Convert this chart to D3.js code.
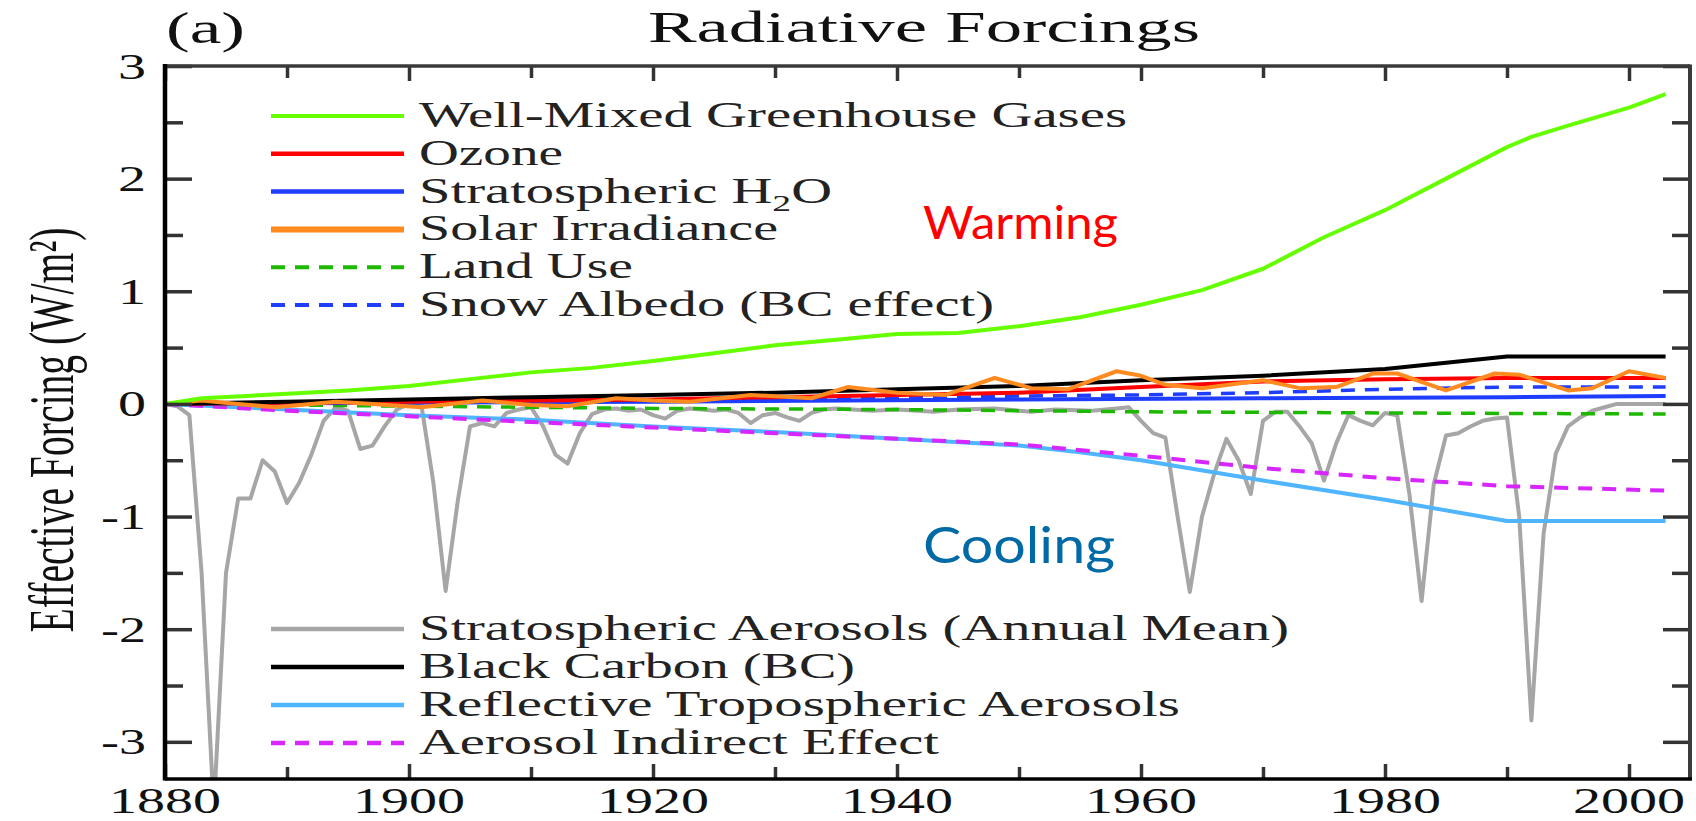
<!DOCTYPE html>
<html><head><meta charset="utf-8">
<script src="https://cdn.jsdelivr.net/npm/d3@7"></script>
<style>html,body{margin:0;padding:0;background:#fff;}svg{display:block}</style>
</head><body>
<svg id="chart" width="1696" height="821"></svg>
<script>
// ---------------- DATA ----------------
const xMajorYears = [1880, 1900, 1920, 1940, 1960, 1980, 2000];
const xMinorYears = [1890, 1910, 1930, 1950, 1970, 1990];
const xTickLabels = ["1880", "1900", "1920", "1940", "1960", "1980", "2000"];
const yMajorValues = [-3, -2, -1, 0, 1, 2, 3];
const yMinorValues = [-2.5, -1.5, -0.5, 0.5, 1.5, 2.5];
const yTickLabels = ["-3", "-2", "-1", "0", "1", "2", "3"];

const ghg = [[1880,0],[1883,0.05],[1890,0.09],[1895,0.12],[1900,0.16],[1905,0.22],[1910,0.28],[1915,0.32],[1920,0.38],[1925,0.45],[1930,0.52],[1935,0.57],[1940,0.62],[1945,0.63],[1950,0.69],[1955,0.77],[1960,0.88],[1965,1.01],[1970,1.2],[1975,1.48],[1980,1.72],[1985,2.0],[1990,2.28],[1992,2.37],[1995,2.47],[2000,2.63],[2003,2.75]];
const ozone = [[1880,0],[1900,0.02],[1920,0.04],[1940,0.08],[1950,0.1],[1960,0.15],[1970,0.2],[1980,0.22],[1990,0.23],[2003,0.23]];
const stratH2O = [[1880,0],[1920,0.02],[1950,0.04],[1970,0.05],[1990,0.06],[2003,0.07]];
const solar = [[1880,0.0],[1883,0.03],[1886,0.0],[1889,-0.03],[1894,0.02],[1897,0.0],[1901,-0.03],[1906,0.03],[1910,-0.01],[1913,-0.02],[1917,0.05],[1920,0.03],[1923,0.02],[1928,0.08],[1933,0.05],[1936,0.15],[1940,0.1],[1944,0.08],[1948,0.23],[1951,0.14],[1954,0.13],[1958,0.29],[1960,0.25],[1962,0.17],[1965,0.14],[1970,0.21],[1973,0.14],[1976,0.15],[1979,0.27],[1981,0.27],[1985,0.12],[1989,0.27],[1991,0.26],[1995,0.12],[1997,0.14],[2000,0.29],[2003,0.23]];
const landUse = [[1880,0],[1900,-0.02],[1920,-0.04],[1940,-0.05],[1960,-0.07],[1980,-0.08],[2003,-0.09]];
const snowAlbedo = [[1880,0],[1900,0.02],[1920,0.03],[1940,0.05],[1950,0.07],[1960,0.08],[1970,0.1],[1980,0.13],[1990,0.15],[2003,0.15]];
const stratAerosols = [[1880,0],[1881,-0.02],[1882,-0.1],[1883,-1.5],[1884,-3.6],[1885,-1.5],[1886,-0.84],[1887,-0.84],[1888,-0.5],[1889,-0.6],[1890,-0.88],[1891,-0.7],[1892,-0.45],[1893,-0.15],[1894,-0.03],[1895,-0.06],[1896,-0.4],[1897,-0.37],[1898,-0.2],[1899,-0.05],[1900,0],[1901,0],[1902,-0.7],[1903,-1.66],[1904,-0.86],[1905,-0.2],[1906,-0.17],[1907,-0.2],[1908,-0.08],[1909,-0.05],[1910,-0.03],[1911,-0.2],[1912,-0.45],[1913,-0.53],[1914,-0.26],[1915,-0.09],[1916,-0.05],[1917,-0.04],[1918,-0.06],[1919,-0.05],[1920,-0.1],[1921,-0.13],[1922,-0.06],[1923,-0.04],[1924,-0.05],[1925,-0.06],[1926,-0.05],[1927,-0.08],[1928,-0.17],[1929,-0.1],[1930,-0.08],[1931,-0.12],[1932,-0.15],[1933,-0.08],[1934,-0.05],[1935,-0.04],[1938,-0.06],[1940,-0.05],[1943,-0.07],[1945,-0.05],[1948,-0.04],[1951,-0.07],[1953,-0.05],[1956,-0.06],[1958,-0.04],[1959,-0.03],[1960,-0.15],[1961,-0.26],[1962,-0.3],[1963,-1.0],[1964,-1.67],[1965,-1.0],[1966,-0.62],[1967,-0.31],[1968,-0.5],[1969,-0.8],[1970,-0.15],[1971,-0.07],[1972,-0.07],[1973,-0.2],[1974,-0.35],[1975,-0.68],[1976,-0.35],[1977,-0.1],[1978,-0.15],[1979,-0.19],[1980,-0.08],[1981,-0.1],[1982,-0.8],[1983,-1.75],[1984,-0.71],[1985,-0.28],[1986,-0.26],[1987,-0.2],[1988,-0.15],[1989,-0.13],[1990,-0.12],[1991,-1.0],[1992,-2.81],[1993,-1.15],[1994,-0.44],[1995,-0.2],[1996,-0.12],[1997,-0.06],[1998,-0.03],[1999,0],[2003,0]];
const blackCarbon = [[1880,0],[1890,0.02],[1900,0.04],[1910,0.06],[1920,0.08],[1930,0.1],[1940,0.13],[1950,0.16],[1960,0.21],[1970,0.25],[1980,0.31],[1990,0.42],[2003,0.42]];
const tropAerosols = [[1880,0],[1890,-0.05],[1900,-0.1],[1910,-0.14],[1920,-0.2],[1930,-0.25],[1940,-0.31],[1950,-0.37],[1955,-0.43],[1960,-0.5],[1970,-0.68],[1980,-0.85],[1990,-1.04],[2003,-1.04]];
const indirect = [[1880,0],[1890,-0.06],[1900,-0.11],[1910,-0.16],[1920,-0.21],[1930,-0.26],[1940,-0.31],[1950,-0.36],[1960,-0.46],[1970,-0.57],[1980,-0.66],[1990,-0.73],[2003,-0.77]];

const upperLegendNames = ["Well-Mixed Greenhouse Gases", "Ozone", "Stratospheric H2O", "Solar Irradiance", "Land Use", "Snow Albedo (BC effect)"];
const lowerLegendNames = ["Stratospheric Aerosols (Annual Mean)", "Black Carbon (BC)", "Reflective Tropospheric Aerosols", "Aerosol Indirect Effect"];

// ---------------- STYLE ----------------
const C = {
  ghg: "#66ff00", ozone: "#ff0000", h2o: "#1f3dff", solar: "#ff8a20", land: "#1db800",
  snow: "#1f3dff", strat: "#a6a6a6", bc: "#000000", trop: "#4fb5ff", ind: "#d726ff"
};
const serif = "'Liberation Serif','Times New Roman',serif";

const M = {left: 165, right: 1690, top: 66, bottom: 779};
const svg = d3.select("#chart");
const x = d3.scaleLinear().domain([1880, 2005]).range([M.left, M.right]);
const y = d3.scaleLinear().domain([-3.33, 3]).range([M.bottom, M.top]);

svg.append("defs").append("clipPath").attr("id", "clip").append("rect")
  .attr("x", M.left).attr("y", M.top).attr("width", M.right - M.left).attr("height", M.bottom - M.top);

// series in drawing order
const series = [
  {data: stratAerosols, color: C.strat, w: 4, dash: null},
  {data: tropAerosols, color: C.trop, w: 4, dash: null},
  {data: indirect, color: C.ind, w: 4, dash: "14,10"},
  {data: landUse, color: C.land, w: 3.5, dash: "14,10"},
  {data: snowAlbedo, color: C.snow, w: 3.5, dash: "14,10"},
  {data: stratH2O, color: C.h2o, w: 4, dash: null},
  {data: ozone, color: C.ozone, w: 4, dash: null},
  {data: blackCarbon, color: C.bc, w: 4, dash: null},
  {data: solar, color: C.solar, w: 4, dash: null},
  {data: ghg, color: C.ghg, w: 4, dash: null}
];
const line = d3.line().x(d => x(d[0])).y(d => y(d[1]));
const plot = svg.append("g").attr("clip-path", "url(#clip)");
series.forEach(s => {
  plot.append("path").attr("d", line(s.data)).attr("fill", "none")
    .attr("stroke", s.color).attr("stroke-width", s.w)
    .attr("stroke-linejoin", "round")
    .attr("stroke-dasharray", s.dash);
});

// ---------------- AXES ----------------
function drawAxis(gen, tr, sw) {
  const g = svg.append("g").attr("transform", tr).call(gen);
  g.select(".domain").remove();
  g.selectAll("text").remove();
  g.selectAll("line").attr("stroke", "#333").attr("stroke-width", sw);
}
drawAxis(d3.axisBottom(x).tickValues(xMajorYears).tickSize(-15), `translate(0,${M.bottom})`, 3.5);
drawAxis(d3.axisBottom(x).tickValues(xMinorYears).tickSize(-12), `translate(0,${M.bottom})`, 3.5);
drawAxis(d3.axisTop(x).tickValues(xMajorYears).tickSize(-15), `translate(0,${M.top})`, 3.5);
drawAxis(d3.axisTop(x).tickValues(xMinorYears).tickSize(-12), `translate(0,${M.top})`, 3.5);
drawAxis(d3.axisLeft(y).tickValues(yMajorValues).tickSize(-27), `translate(${M.left},0)`, 3.5);
drawAxis(d3.axisLeft(y).tickValues(yMinorValues).tickSize(-18), `translate(${M.left},0)`, 3.5);
drawAxis(d3.axisRight(y).tickValues(yMajorValues).tickSize(-27), `translate(${M.right},0)`, 3.5);
drawAxis(d3.axisRight(y).tickValues(yMinorValues).tickSize(-18), `translate(${M.right},0)`, 3.5);

// frame
const frame = svg.append("g");
frame.append("line").attr("x1", M.left).attr("x2", M.right).attr("y1", M.top).attr("y2", M.top).attr("stroke", "#3a3a3a").attr("stroke-width", 3.5);
frame.append("line").attr("x1", M.right).attr("x2", M.right).attr("y1", M.top - 1.5).attr("y2", M.bottom).attr("stroke", "#3a3a3a").attr("stroke-width", 4);
frame.append("line").attr("x1", M.left).attr("x2", M.right + 2).attr("y1", M.bottom).attr("y2", M.bottom).attr("stroke", "#000").attr("stroke-width", 3.5);
frame.append("line").attr("x1", M.left).attr("x2", M.left).attr("y1", M.top - 2).attr("y2", M.bottom + 1.5).attr("stroke", "#000").attr("stroke-width", 4.5);

// tick labels
svg.append("g").selectAll("text").data(xMajorYears).join("text")
  .attr("x", d => x(d)).attr("y", 813).attr("text-anchor", "middle")
  .attr("font-family", serif).attr("font-size", 35).attr("fill", "#111")
  .attr("textLength", 112).attr("lengthAdjust", "spacingAndGlyphs")
  .text((d, i) => xTickLabels[i]);
svg.append("g").selectAll("text").data(yMajorValues).join("text")
  .attr("x", 146).attr("y", d => y(d) + 12.5).attr("text-anchor", "end")
  .attr("font-family", serif).attr("font-size", 36).attr("fill", "#111")
  .attr("textLength", (d, i) => yTickLabels[i].length > 1 ? 45 : 28).attr("lengthAdjust", "spacingAndGlyphs")
  .text((d, i) => yTickLabels[i]);

// title & panel letter
svg.append("text").attr("x", 648).attr("y", 42).attr("font-family", serif).attr("font-size", 45)
  .attr("fill", "#111").attr("textLength", 552).attr("lengthAdjust", "spacingAndGlyphs").text("Radiative Forcings");
svg.append("text").attr("x", 166).attr("y", 43).attr("font-family", serif).attr("font-size", 44)
  .attr("fill", "#111").attr("textLength", 79).attr("lengthAdjust", "spacingAndGlyphs").text("(a)");

// y-axis title
svg.append("g").attr("transform", "translate(73,430) scale(1.6,1) rotate(-90)")
  .append("text").attr("x", 0).attr("y", 0).attr("text-anchor", "middle")
  .attr("font-family", serif).attr("font-size", 40).attr("fill", "#111")
  .attr("textLength", 405).attr("lengthAdjust", "spacingAndGlyphs")
  .text("Effective Forcing (W/m²)");

// ---------------- LEGENDS ----------------
const upperStyles = [
  {color: C.ghg, w: 4, dash: null}, {color: C.ozone, w: 4.5, dash: null}, {color: C.h2o, w: 4.5, dash: null},
  {color: C.solar, w: 6, dash: null}, {color: C.land, w: 4, dash: "14,10"}, {color: C.snow, w: 4, dash: "14,10"}
];
const upperWidths = [708, 144, 413, 359, 214, 575];
const lowerStyles = [
  {color: C.strat, w: 4.5, dash: null}, {color: C.bc, w: 4.5, dash: null},
  {color: C.trop, w: 4.5, dash: null}, {color: C.ind, w: 4.5, dash: "14,10"}
];
const lowerWidths = [870, 436, 761, 520];

function legend(names, styles, widths, y0, step) {
  const g = svg.append("g");
  names.forEach((n, i) => {
    const yy = y0 + i * step;
    g.append("line").attr("x1", 271).attr("x2", 404).attr("y1", yy).attr("y2", yy)
      .attr("stroke", styles[i].color).attr("stroke-width", styles[i].w).attr("stroke-dasharray", styles[i].dash);
    const t = g.append("text").attr("x", 419).attr("y", yy + 11).attr("font-family", serif)
      .attr("font-size", 36).attr("fill", "#222")
      .attr("textLength", widths[i]).attr("lengthAdjust", "spacingAndGlyphs");
    if (n.endsWith("H2O")) {
      t.append("tspan").text(n.slice(0, -2));
      t.append("tspan").attr("font-size", 24).attr("dy", 8).text("2");
      t.append("tspan").attr("dy", -8).text("O");
    } else {
      t.text(n);
    }
  });
}
legend(upperLegendNames, upperStyles, upperWidths, 116, 37.8);
legend(lowerLegendNames, lowerStyles, lowerWidths, 629, 38);

// annotations
svg.append("text").attr("x", 923).attr("y", 239).attr("font-family", "Lato, 'Open Sans', sans-serif")
  .attr("font-size", 46).attr("fill", "#ff0000").attr("textLength", 195).attr("lengthAdjust", "spacingAndGlyphs").text("Warming");
svg.append("text").attr("x", 923).attr("y", 563).attr("font-family", "Lato, 'Open Sans', sans-serif")
  .attr("font-size", 50).attr("fill", "#006aa6").attr("textLength", 192).attr("lengthAdjust", "spacingAndGlyphs").text("Cooling");
</script>
</body></html>
